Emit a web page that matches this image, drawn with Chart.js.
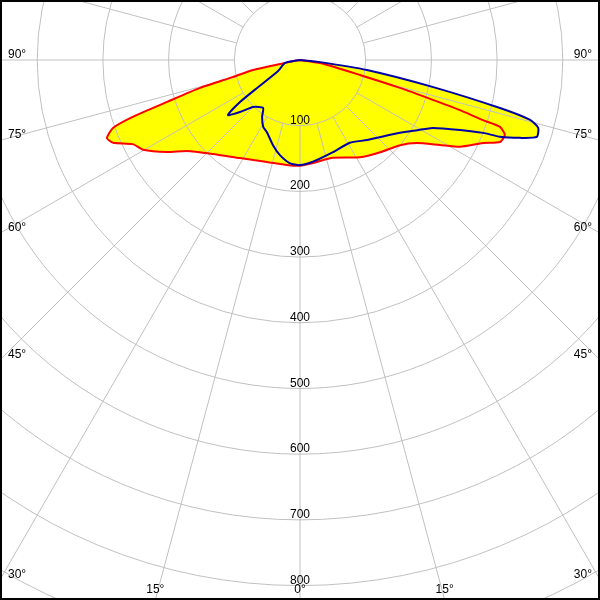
<!DOCTYPE html>
<html>
<head>
<meta charset="utf-8">
<script src="https://cdn.jsdelivr.net/npm/chart.js@4/dist/chart.umd.min.js"></script>
<style>
  html, body { margin: 0; padding: 0; background: #fff; }
  #wrap { width: 600px; height: 600px; }
</style>
</head>
<body>
<div id="wrap"><canvas id="polar" width="600" height="600"></canvas></div>
<script>
// gamma angles in degrees (0 = straight down, negative = left half), intensity in cd
const redAngles = [-180, -90, -82, -78.7, -78, -75.8, -74.4, -72.5, -71.2, -70, -68, -66.1, -63.3, -60.2, -55.3, -51.2, -42.8, -31.5, -17.9, -7.1, 0, 7.2, 18.6, 31.7, 41, 49.6, 54.6, 58.7, 61.5, 65.6, 67.7, 69.9, 71.5, 71.8, 72.6, 73.3, 74.4, 76, 81.5, 90, 180];
const redCd = [0, 0, 10, 23, 73, 105, 158, 212, 269, 303, 317, 311, 285, 275, 246, 221, 195, 175, 163, 161, 161, 158, 157, 174, 186, 200, 218, 249, 277, 306, 329, 332, 321, 293, 255, 211, 158, 94, 31, 0, 0];

const blueAngles = [-180, -90, -78.7, -62.4, -56.9, -55, -52.6, -49.1, -45, -37.6, -33.7, -28.9, -24.6, -17.6, -11.9, -5.5, 0, 7.3, 19.7, 31, 40, 53.9, 59.1, 62.9, 66.4, 68.3, 69, 70.5, 72, 74.1, 75.4, 76.5, 78.5, 81.5, 84, 90, 180];
const blueCd = [0, 0, 23, 39, 78, 111, 138, 121, 101, 92, 104, 116, 121, 136, 148, 158, 160, 156, 149, 147, 159, 188, 208, 227, 266, 300, 326, 355, 379, 377, 362, 313, 207, 103, 31, 0, 0];

const ringValues = [100, 200, 300, 400, 500, 600, 700, 800, 900, 1000];
const ringLabels = ["100", "200", "300", "400", "500", "600", "700", "800"];
const sideAngleLabels = [90, 75, 60, 45, 30];
const bottomAngleLabels = [0, 15];

function toPoints(angles, cd) {
  return angles.map((a, i) => {
    const g = a * Math.PI / 180;
    return { x: cd[i] * Math.sin(g), y: -cd[i] * Math.cos(g) };
  });
}

const gridPlugin = {
  id: 'polarGrid',
  beforeDatasetsDraw(chart) {
    const ctx = chart.ctx;
    const xs = chart.scales.x, ys = chart.scales.y;
    const cx = xs.getPixelForValue(0);
    const cy = ys.getPixelForValue(0);
    const k = xs.getPixelForValue(100) - cx; // px per 100 cd
    const W = chart.width, H = chart.height;

    ctx.save();
    ctx.strokeStyle = '#c0c0c0';
    ctx.lineWidth = 1;
    ringValues.forEach(v => {
      ctx.beginPath();
      ctx.arc(cx, cy, v / 100 * k, 0, Math.PI * 2);
      ctx.stroke();
    });
    for (let a = 0; a < 360; a += 15) {
      const g = a * Math.PI / 180;
      const r0 = k, r1 = 12 * k;
      ctx.beginPath();
      ctx.moveTo(cx + r0 * Math.sin(g), cy + r0 * Math.cos(g));
      ctx.lineTo(cx + r1 * Math.sin(g), cy + r1 * Math.cos(g));
      ctx.stroke();
    }

    ctx.fillStyle = '#000';
    ctx.font = "12px 'Liberation Sans', Arial, sans-serif";
    ctx.textBaseline = 'alphabetic';
    ctx.textAlign = 'center';
    ringLabels.forEach(t => {
      const y = cy + Number(t) / 100 * k;
      ctx.fillText(t, cx, y - 2);
    });

    sideAngleLabels.forEach(a => {
      const g = a * Math.PI / 180;
      const y = cy + cx * Math.cos(g) / Math.sin(g) - 2;
      ctx.textAlign = 'left';
      ctx.fillText(a + '°', 8, y);
      ctx.textAlign = 'right';
      ctx.fillText(a + '°', W - 8, y);
    });
    bottomAngleLabels.forEach(a => {
      const g = a * Math.PI / 180;
      const dx = (H - cy) * Math.tan(g);
      ctx.textAlign = 'center';
      ctx.fillText(a + '°', cx - dx, H - 7);
      if (a !== 0) ctx.fillText(a + '°', cx + dx, H - 7);
    });
    ctx.restore();
  },
  afterDraw(chart) {
    const ctx = chart.ctx;
    ctx.save();
    ctx.fillStyle = '#000';
    ctx.fillRect(0, 0, chart.width, 2);
    ctx.fillRect(0, chart.height - 2, chart.width, 2);
    ctx.fillRect(0, 0, 2, chart.height);
    ctx.fillRect(chart.width - 2, 0, 2, chart.height);
    ctx.restore();
  }
};

const pxPerCd = 0.657;
const cxPx = 300, cyPx = 60;

new Chart(document.getElementById('polar'), {
  type: 'scatter',
  data: {
    datasets: [
      {
        label: 'C0 - C180',
        data: toPoints(redAngles, redCd),
        showLine: true,
        borderColor: '#ff0000',
        backgroundColor: '#ffff00',
        borderWidth: 2,
        pointRadius: 0,
        tension: 0.2,
        fill: 'shape',
        order: 1
      },
      {
        label: 'C90 - C270',
        data: toPoints(blueAngles, blueCd),
        showLine: true,
        borderColor: '#0000a8',
        backgroundColor: '#ffff00',
        borderWidth: 2,
        pointRadius: 0,
        tension: 0.2,
        fill: 'shape',
        order: 0
      }
    ]
  },
  options: {
    responsive: false,
    animation: false,
    layout: { padding: 0 },
    scales: {
      x: { type: 'linear', display: false, min: -cxPx / pxPerCd, max: (600 - cxPx) / pxPerCd },
      y: { type: 'linear', display: false, min: -(600 - cyPx) / pxPerCd, max: cyPx / pxPerCd }
    },
    plugins: {
      legend: { display: false },
      tooltip: { enabled: false },
      filler: { drawTime: 'beforeDraw' }
    }
  },
  plugins: [gridPlugin]
});
</script>
</body>
</html>
